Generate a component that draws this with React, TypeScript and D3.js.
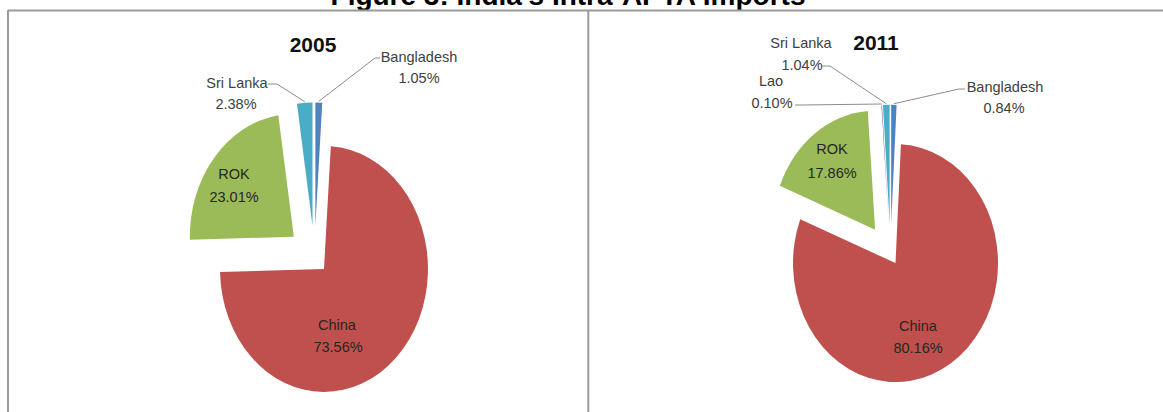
import React from 'react';
import * as d3 from 'd3';

// ---------- data ----------
const TITLE = "Figure 3: India's Intra-APTA Imports";
const YEARS = ['2005', '2011'];
const COUNTRIES_2005 = ['Bangladesh', 'China', 'ROK', 'Sri Lanka'];
const SHARES_2005 = [1.05, 73.56, 23.01, 2.38];
const COUNTRIES_2011 = ['Bangladesh', 'China', 'ROK', 'Lao', 'Sri Lanka'];
const SHARES_2011 = [0.84, 80.16, 17.86, 0.1, 1.04];

const COLORS: Record<string, string> = {
  Bangladesh: '#4F81BD',
  China: '#C0504D',
  ROK: '#9BBB59',
  Lao: '#8064A2',
  'Sri Lanka': '#4BACC6',
};

// ---------- layout ----------
type LabelLayout = {
  x: number; // centre of text
  y: number; // baseline of first line
  x2?: number;
  gap: number;
  leader?: [number, number][]; // start of leader polyline (ends at slice)
};

type PanelLayout = {
  year: string;
  countries: string[];
  shares: number[];
  cx: number;
  cy: number;
  rx: number;
  ry: number;
  explode: Record<string, number>;
  yearPos: [number, number];
  labels: Record<string, LabelLayout>;
};

const panels: PanelLayout[] = [
  {
    year: YEARS[0],
    countries: COUNTRIES_2005,
    shares: SHARES_2005,
    cx: 314.5,
    cy: 257.3,
    rx: 104,
    ry: 123,
    explode: { China: 13.7, ROK: 27, 'Sri Lanka': 27, Bangladesh: 27 },
    yearPos: [313, 52],
    labels: {
      Bangladesh: { x: 419, y: 62, gap: 21, leader: [[380, 58], [375, 58]] },
      'Sri Lanka': { x: 237, y: 88, x2: 236, gap: 21, leader: [[268, 84], [277, 84]] },
      ROK: { x: 234, y: 179, gap: 23 },
      China: { x: 337, y: 330, x2: 338, gap: 22 },
    },
  },
  {
    year: YEARS[1],
    countries: COUNTRIES_2011,
    shares: SHARES_2011,
    cx: 890.5,
    cy: 254,
    rx: 102.5,
    ry: 119,
    explode: { China: 9.3, ROK: 26, Lao: 26, 'Sri Lanka': 26, Bangladesh: 26 },
    yearPos: [876, 50],
    labels: {
      Bangladesh: { x: 1005, y: 92, x2: 1004, gap: 21, leader: [[965, 89], [959, 89]] },
      'Sri Lanka': { x: 801, y: 48, x2: 802, gap: 22, leader: [[822, 66], [830, 66]] },
      Lao: { x: 771, y: 86, x2: 772, gap: 22, leader: [[795, 105], [801, 105]] },
      ROK: { x: 832, y: 154, gap: 24 },
      China: { x: 918, y: 331, gap: 22 },
    },
  },
];

const LABEL_FONT = "'Liberation Sans', Arial, sans-serif";

function Pie({ p }: { p: PanelLayout }) {
  const pie = d3
    .pie<number>()
    .sort(null)
    .value((d) => d)
    .startAngle(0)
    .endAngle(2 * Math.PI);
  const arcs = pie(p.shares);
  const arc = d3.arc<d3.PieArcDatum<number>>().innerRadius(0).outerRadius(p.rx);
  const k = p.ry / p.rx;

  return (
    <g>
      <g transform={`translate(${p.cx},${p.cy}) scale(1,${k})`}>
        {arcs.map((a, i) => {
          const name = p.countries[i];
          const mid = (a.startAngle + a.endAngle) / 2;
          const e = p.explode[name] || 0;
          return (
            <path
              key={name}
              d={arc(a) || ''}
              fill={COLORS[name]}
              transform={`translate(${e * Math.sin(mid)},${-e * Math.cos(mid)})`}
            />
          );
        })}
      </g>
      <text
        x={p.yearPos[0]}
        y={p.yearPos[1]}
        textAnchor="middle"
        fontFamily={LABEL_FONT}
        fontWeight="bold"
        fontSize={21}
        fill="#111"
      >
        {p.year}
      </text>
      {arcs.map((a, i) => {
        const name = p.countries[i];
        const lab = p.labels[name];
        if (!lab) return null;
        const mid = (a.startAngle + a.endAngle) / 2;
        const e = p.explode[name] || 0;
        const r = e + p.rx + 1;
        const end: [number, number] = [p.cx + r * Math.sin(mid), p.cy - r * Math.cos(mid) * k];
        const pts = lab.leader ? [...lab.leader, end] : null;
        const inside = !lab.leader;
        return (
          <g key={name}>
            {pts && (
              <polyline
                points={pts.map((q) => q.join(',')).join(' ')}
                fill="none"
                stroke="#8c8c8c"
                strokeWidth={1}
              />
            )}
            <text
              x={lab.x}
              y={lab.y}
              textAnchor="middle"
              fontFamily={LABEL_FONT}
              fontSize={14.5}
              fill={inside ? '#262626' : '#404040'}
            >
              {name}
            </text>
            <text
              x={lab.x2 ?? lab.x}
              y={lab.y + lab.gap}
              textAnchor="middle"
              fontFamily={LABEL_FONT}
              fontSize={14.5}
              fill={inside ? '#262626' : '#404040'}
            >
              {p.shares[i].toFixed(2) + '%'}
            </text>
          </g>
        );
      })}
    </g>
  );
}

export default function App() {
  const W = 1163;
  const H = 412;
  return (
    <svg
      width={W}
      height={H}
      style={{ position: 'absolute', left: 0, top: 0, background: '#fff' }}
    >
      <rect x={0} y={0} width={W} height={H} fill="#fff" />
      <text
        x={568}
        y={5}
        textAnchor="middle"
        fontFamily={LABEL_FONT}
        fontWeight="bold"
        fontSize={28}
        fill="#000"
      >
        {TITLE}
      </text>
      <line x1={8} y1={10.5} x2={W} y2={10.5} stroke="#9a9a9a" strokeWidth={2} />
      <line x1={8} y1={10} x2={8} y2={H} stroke="#9a9a9a" strokeWidth={2} />
      <line x1={588.3} y1={10} x2={588.3} y2={H} stroke="#9a9a9a" strokeWidth={2} />
      {panels.map((p) => (
        <Pie key={p.year} p={p} />
      ))}
    </svg>
  );
}
